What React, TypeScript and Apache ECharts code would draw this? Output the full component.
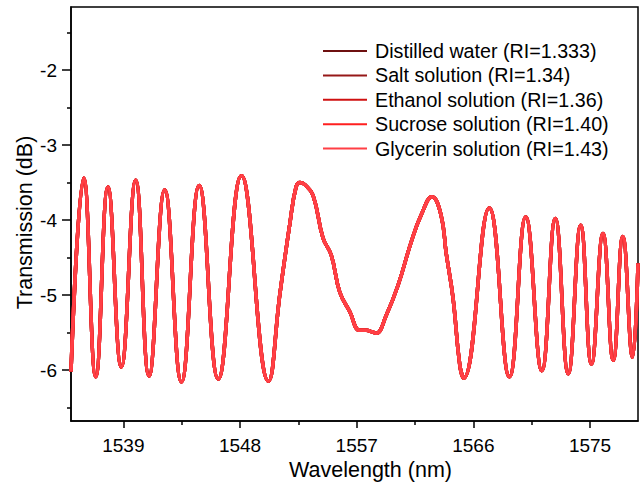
import React, { useEffect, useRef } from "react";
import * as echarts from "echarts";

// Wavelength (nm) and transmission (dB)
const wavelength = [
  1534.96, 1535.94, 1536.87, 1537.81, 1538.84, 1539.95, 1540.98, 1542.19, 1543.48,
  1544.85, 1546.32, 1548.11, 1550.2, 1551.08, 1551.85, 1552.32, 1552.63, 1553.01,
  1553.63, 1554.4, 1555.04, 1555.69, 1556.46, 1557.23, 1557.74, 1558.18, 1558.51,
  1559.28, 1560.19, 1561.21, 1561.98, 1562.81, 1563.5, 1563.91, 1564.43, 1564.95,
  1565.26, 1567.22, 1568.78, 1570.04, 1571.28, 1572.32, 1573.32, 1574.28, 1575.11,
  1576.0, 1576.79, 1577.53, 1578.28, 1578.7,
];
const transmission = [
  -6.02, -3.44, -6.09, -3.56, -5.96, -3.47, -6.08, -3.6, -6.16,
  -3.54, -6.12, -3.41, -6.15, -4.98, -4.04, -3.56, -3.5, -3.53,
  -3.67, -4.24, -4.47, -4.96, -5.22, -5.47, -5.47, -5.49, -5.51,
  -5.27, -4.87, -4.29, -3.93, -3.69, -3.93, -4.45, -5.04, -5.93,
  -6.11, -3.84, -6.09, -3.96, -6.01, -3.98, -6.05, -4.07, -5.92,
  -4.18, -5.87, -4.22, -5.83, -4.58,
];

const seriesNames = [
  "Distilled water (RI=1.333)",
  "Salt solution (RI=1.34)",
  "Ethanol solution (RI=1.36)",
  "Sucrose solution (RI=1.40)",
  "Glycerin solution (RI=1.43)",
];
const seriesColors = ["#6e1010", "#961818", "#cf1111", "#ff1f1f", "#ff3f45"];

const xMajorTicks = [1539, 1548, 1557, 1566, 1575];
const xMinorTicks = [1543.5, 1552.5, 1561.5, 1570.5];
const yMajorTicks = [-6, -5, -4, -3, -2];
const yMinorTicks = [-6.5, -5.5, -4.5, -3.5, -2.5, -1.5];

const FONT = "'Liberation Sans', Arial, sans-serif";

export default function App() {
  const ref = useRef<HTMLDivElement>(null);
  useEffect(() => {
    if (!ref.current) return;
    const chart = echarts.init(ref.current, undefined, { renderer: "svg" });
    const points = wavelength.map((w, i) => [w, transmission[i]]);
    const axisLineStyle = { color: "#000", width: 1.5 };
    chart.setOption({
      animation: false,
      backgroundColor: "#fff",
      grid: {
        left: 71,
        top: 7,
        right: 6,
        bottom: 61,
        show: true,
        borderColor: "#000",
        borderWidth: 1.5,
        containLabel: false,
        outerBoundsMode: "none",
      },
      legend: {
        orient: "vertical",
        left: 318,
        top: 36,
        itemWidth: 44,
        itemHeight: 2,
        itemGap: 4.4,
        icon: "rect",
        data: seriesNames,
        textStyle: { fontSize: 19.7, color: "#000", fontFamily: FONT, padding: [0, 0, 0, 3] },
      },
      xAxis: [
        {
          type: "value",
          min: 1534.96,
          max: 1578.7,
          axisLine: { show: true, lineStyle: axisLineStyle },
          axisTick: { show: true, inside: false, length: 7, customValues: xMajorTicks, lineStyle: axisLineStyle },
          axisLabel: {
            customValues: xMajorTicks,
            formatter: (v: number) => String(v),
            fontSize: 19,
            color: "#000",
            fontFamily: FONT,
            margin: 15,
          },
          splitLine: { show: false },
          name: "Wavelength (nm)",
          nameLocation: "middle",
          nameGap: 38,
          nameMoveOverlap: false,
          nameTextStyle: { fontSize: 21.5, color: "#000", fontFamily: FONT, padding: [0, 0, 0, 32] },
        },
        {
          type: "value",
          min: 1534.96,
          max: 1578.7,
          position: "bottom",
          axisLine: { show: false },
          axisTick: { show: true, inside: false, length: 4, customValues: xMinorTicks, lineStyle: axisLineStyle },
          axisLabel: { show: false },
          splitLine: { show: false },
        },
      ],
      yAxis: [
        {
          type: "value",
          min: -6.68,
          max: -1.16,
          axisLine: { show: true, lineStyle: axisLineStyle },
          axisTick: { show: true, inside: false, length: 9, customValues: yMajorTicks, lineStyle: axisLineStyle },
          axisLabel: {
            customValues: yMajorTicks,
            formatter: (v: number) => String(v),
            fontSize: 19,
            color: "#000",
            fontFamily: FONT,
            margin: 14,
          },
          splitLine: { show: false },
          name: "Transmission (dB)",
          nameLocation: "middle",
          nameGap: 35,
          nameMoveOverlap: false,
          nameRotate: 90,
          nameTextStyle: { fontSize: 21.5, color: "#000", fontFamily: FONT, padding: [0, 17, 0, 0] },
        },
        {
          type: "value",
          min: -6.68,
          max: -1.16,
          position: "left",
          axisLine: { show: false },
          axisTick: { show: true, inside: false, length: 4, customValues: yMinorTicks, lineStyle: axisLineStyle },
          axisLabel: { show: false },
          splitLine: { show: false },
        },
      ],
      series: seriesNames.map((name, i) => ({
        name,
        type: "line",
        xAxisIndex: 0,
        yAxisIndex: 0,
        data: points,
        smooth: 0.45,
        symbol: "none",
        showSymbol: false,
        color: seriesColors[i],
        itemStyle: { color: seriesColors[i] },
        lineStyle: { width: 3.5, color: seriesColors[i] },
      })),
    });
    return () => chart.dispose();
  }, []);
  return (
    <div
      ref={ref}
      style={{ position: "fixed", left: 0, top: 0, width: 644, height: 482, background: "#fff" }}
    />
  );
}
